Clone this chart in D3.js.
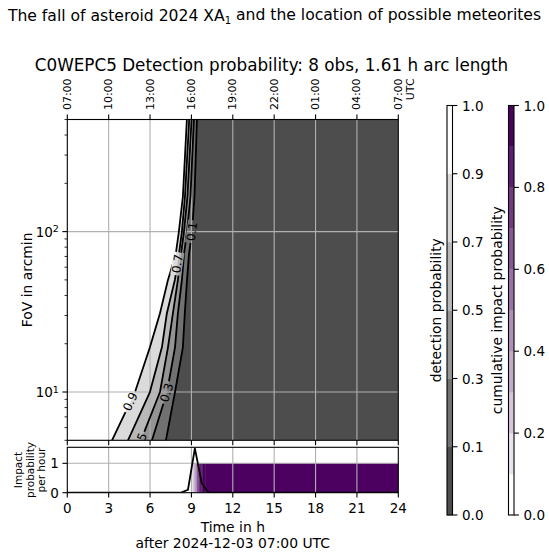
<!DOCTYPE html>
<html><head><meta charset="utf-8">
<script src="https://cdn.jsdelivr.net/npm/d3@7/dist/d3.min.js"></script>
<style>
html,body{margin:0;padding:0;background:#fff;}
svg{display:block;}
text{font-family:"DejaVu Sans",sans-serif;fill:#000;}
</style></head>
<body><svg id="chart" width="549" height="555"></svg>
<script>
// ---------------- data ----------------
const timeTicks = [0, 3, 6, 9, 12, 15, 18, 21, 24];
const utcTickLabels = ["07:00", "10:00", "13:00", "16:00", "19:00", "22:00", "01:00", "04:00", "07:00"];
const fovMajorTicks = [10, 100];
const fovMajorLabels = [["10", "1"], ["10", "2"]];
const fovMinorTicks = [5, 6, 7, 8, 9, 20, 30, 40, 50, 60, 70, 80, 90, 200, 300, 400, 500];
const fovGrid = [5, 10, 19, 31, 50, 72, 100, 165, 500];
const contourLevels = [0.1, 0.3, 0.5, 0.7, 0.9];
const contourT01 = [7.15, 7.81, 8.38, 8.52, 8.68, 8.82, 9.04, 9.22, 9.40];
const contourT03 = [6.14, 7.23, 7.81, 8.02, 8.31, 8.46, 8.68, 8.93, 9.18];
const contourT05 = [5.34, 6.72, 7.30, 7.66, 8.02, 8.24, 8.46, 8.71, 9.01];
const contourT07 = [4.40, 5.99, 6.86, 7.22, 7.80, 8.09, 8.31, 8.53, 8.84];
const contourT09 = [3.24, 4.91, 5.99, 6.72, 7.30, 7.86, 8.09, 8.38, 8.67];
const clabelFov = [100, 9.9, 4.85, 63, 8.7];
const detectionBounds = [0, 0.1, 0.3, 0.5, 0.7, 0.9, 1.0];
const impactBounds = [0, 0.1, 0.2, 0.3, 0.4, 0.5, 0.6, 0.7, 0.8, 0.9, 1.0];
const impactTicks = [0, 0.2, 0.4, 0.6, 0.8, 1.0];
const rateTimes = [0, 8.25, 8.75, 9.25, 9.75, 10.25, 24];
const rateValues = [0, 0, 0.1, 1.51, 0.32, 0, 0];
const rateTicks = [0, 1];
const cumTimes = [8.9, 9.0, 9.1, 9.2, 9.3, 9.4, 9.5, 9.6, 9.7, 9.8, 9.9, 10.0];
const cumValues = [0.06, 0.13, 0.22, 0.34, 0.49, 0.62, 0.72, 0.81, 0.88, 0.92, 0.95, 0.99];

const contourT = [contourT01, contourT03, contourT05, contourT07, contourT09];

// ---------------- styles ----------------
const grayLow = "#4d4d4d", grayHigh = "#ffffff";
const purpleLow = "#ffffff", purpleHigh = "#4c0060";
const gridColor = "#b0b0b0";
const fsTick = 13.5, fsLabel = 13.9;

// ---------------- layout ----------------
const M = {left: 67.3, right: 398.3, top: 119.5, bottom: 440.3};
const Lo = {top: 447.3, bottom: 492.7};
const majorLen = 4.9, minorLen = 2.8;

const svg = d3.select("#chart");
const defs = svg.append("defs");

const x = d3.scaleLinear().domain([0, 24]).range([M.left, M.right]);
const yF = d3.scaleLog().domain([5, 500]).range([M.bottom, M.top]);
const yI = d3.scaleLinear().domain([0, 1.545]).range([Lo.bottom, Lo.top]);

const grayColors = d3.range(detectionBounds.length - 1).map(i => d3.interpolateRgb(grayLow, grayHigh)(i / (detectionBounds.length - 2)));
const purpleColors = d3.range(impactBounds.length - 1).map(i => d3.interpolateRgb(purpleLow, purpleHigh)(i / (impactBounds.length - 2)));
const purpleScale = d3.scaleThreshold().domain(impactBounds.slice(1, -1)).range(purpleColors);

defs.append("clipPath").attr("id", "clipMain").append("rect")
  .attr("x", M.left).attr("y", M.top).attr("width", M.right - M.left).attr("height", M.bottom - M.top);
defs.append("clipPath").attr("id", "clipLow").append("rect")
  .attr("x", M.left).attr("y", Lo.top).attr("width", M.right - M.left).attr("height", Lo.bottom - Lo.top);

// ---------------- titles ----------------
const sup = svg.append("text").attr("x", 274.5).attr("y", 21).attr("text-anchor", "middle")
  .style("font-size", "15.6px");
sup.append("tspan").text("The fall of asteroid 2024 XA");
sup.append("tspan").attr("dy", "0.25em").style("font-size", "10px").text("1");
sup.append("tspan").attr("dy", "-0.25em").text(" and the location of possible meteorites");

svg.append("text").attr("x", 271.5).attr("y", 70.5).attr("text-anchor", "middle")
  .style("font-size", "16.8px").text("C0WEPC5 Detection probability: 8 obs, 1.61 h arc length");

// ---------------- main contour panel ----------------
const gMain = svg.append("g").attr("clip-path", "url(#clipMain)");
gMain.append("rect").attr("x", M.left).attr("y", M.top)
  .attr("width", M.right - M.left).attr("height", M.bottom - M.top).attr("fill", grayColors[0]);

const curvePts = contourT.map(ts => fovGrid.map((f, j) => [x(ts[j]), yF(f)]));
contourLevels.forEach((lev, i) => {
  const poly = curvePts[i].concat([[x(0) - 2, yF(500)], [x(0) - 2, yF(5)]]);
  gMain.append("path").attr("d", "M" + poly.map(p => p.join(",")).join("L") + "Z")
    .attr("fill", grayColors[i + 1]);
});

// grid
const gGrid = gMain.append("g");
timeTicks.slice(1, -1).forEach(t => {
  gGrid.append("line").attr("x1", x(t)).attr("x2", x(t)).attr("y1", M.top).attr("y2", M.bottom)
    .attr("stroke", gridColor).attr("stroke-width", 1.1);
});
fovMajorTicks.forEach(f => {
  gGrid.append("line").attr("x1", M.left).attr("x2", M.right).attr("y1", yF(f)).attr("y2", yF(f))
    .attr("stroke", gridColor).attr("stroke-width", 1.1);
});

// contour lines with label gaps
const gLines = gMain.append("g").attr("mask", "url(#lblMask)");
const line = d3.line();
curvePts.forEach(pts => {
  gLines.append("path").attr("d", line(pts)).attr("fill", "none")
    .attr("stroke", "#000").attr("stroke-width", 1.8).attr("stroke-linejoin", "round");
});

function labelPos(ts, f) {
  let j = 0;
  while (j < fovGrid.length - 2 && f > fovGrid[j + 1]) j++;
  const l0 = Math.log10(fovGrid[j]), l1 = Math.log10(fovGrid[j + 1]);
  const t = ts[j] + (Math.log10(f) - l0) / (l1 - l0) * (ts[j + 1] - ts[j]);
  const dx = x(ts[j + 1]) - x(ts[j]), dy = yF(fovGrid[j + 1]) - yF(fovGrid[j]);
  let ang = Math.atan2(dy, dx) * 180 / Math.PI;
  if (ang < -90) ang += 180;
  if (ang > 90) ang -= 180;
  return {cx: x(t), cy: yF(f), ang};
}
const fsCl = 12;
const mask = defs.append("mask").attr("id", "lblMask").attr("maskUnits", "userSpaceOnUse")
  .attr("x", 0).attr("y", 0).attr("width", 549).attr("height", 555);
mask.append("rect").attr("x", 0).attr("y", 0).attr("width", 549).attr("height", 555).attr("fill", "#fff");
contourLevels.forEach((lev, i) => {
  const p = labelPos(contourT[i], clabelFov[i]);
  const txt = gMain.append("text")
    .attr("transform", `translate(${p.cx},${p.cy}) rotate(${p.ang})`)
    .attr("text-anchor", "middle").attr("dominant-baseline", "central")
    .style("font-size", fsCl + "px").text(d3.format(".1f")(lev));
  const w = txt.node().getComputedTextLength();
  mask.append("rect").attr("x", -w / 2 - 2).attr("y", -fsCl * 0.45).attr("width", w + 4).attr("height", fsCl * 0.9)
    .attr("transform", `translate(${p.cx},${p.cy}) rotate(${p.ang})`).attr("fill", "#000");
});

// main axes
const gAx = svg.append("g");
fovMajorTicks.forEach((f, i) => {
  gAx.append("line").attr("x1", M.left - majorLen).attr("x2", M.left).attr("y1", yF(f)).attr("y2", yF(f))
    .attr("stroke", "#000").attr("stroke-width", 1.1);
  const t = gAx.append("text").attr("x", M.left - majorLen - 3.5).attr("y", yF(f) + 5).attr("text-anchor", "end")
    .style("font-size", fsTick + "px");
  t.append("tspan").text(fovMajorLabels[i][0]);
  t.append("tspan").attr("dy", "-0.45em").style("font-size", "9.5px").text(fovMajorLabels[i][1]);
});
fovMinorTicks.forEach(f => {
  gAx.append("line").attr("x1", M.left - minorLen).attr("x2", M.left).attr("y1", yF(f)).attr("y2", yF(f))
    .attr("stroke", "#000").attr("stroke-width", 0.8);
});
const fsTop = 11;
timeTicks.forEach((t, i) => {
  gAx.append("line").attr("x1", x(t)).attr("x2", x(t)).attr("y1", M.top - majorLen).attr("y2", M.top)
    .attr("stroke", "#000").attr("stroke-width", 1.1);
  gAx.append("line").attr("x1", x(t)).attr("x2", x(t)).attr("y1", M.bottom).attr("y2", M.bottom + majorLen)
    .attr("stroke", "#000").attr("stroke-width", 1.1);
  const g = gAx.append("g").attr("transform", `translate(${x(t)},${M.top - majorLen - 4.5}) rotate(-90)`);
  const lab = g.append("text").attr("x", 0).attr("y", 0).attr("dominant-baseline", "central")
    .attr("text-anchor", "start").style("font-size", fsTop + "px").text(utcTickLabels[i]);
  if (i === timeTicks.length - 1) {
    const w = lab.node().getComputedTextLength();
    g.append("text").attr("x", w).attr("y", 12).attr("dominant-baseline", "central")
      .attr("text-anchor", "end").style("font-size", fsTop + "px").text("UTC");
  }
});
gAx.append("rect").attr("x", M.left).attr("y", M.top).attr("width", M.right - M.left).attr("height", M.bottom - M.top)
  .attr("fill", "none").attr("stroke", "#000").attr("stroke-width", 1.1);

svg.append("text").attr("transform", `translate(27,${(M.top + M.bottom) / 2}) rotate(-90)`)
  .attr("text-anchor", "middle").attr("dominant-baseline", "central")
  .style("font-size", fsLabel + "px").text("FoV in arcmin");

// ---------------- lower panel ----------------
const gLow = svg.append("g").attr("clip-path", "url(#clipLow)");
cumTimes.forEach((t, i) => {
  const t1 = i < cumTimes.length - 1 ? cumTimes[i + 1] : 24;
  gLow.append("rect").attr("x", x(t)).attr("y", yI(1))
    .attr("width", x(t1) - x(t) + 0.4).attr("height", yI(0) - yI(1))
    .attr("fill", purpleScale(cumValues[i]));
});
timeTicks.slice(1, -1).forEach(t => {
  gLow.append("line").attr("x1", x(t)).attr("x2", x(t)).attr("y1", Lo.top).attr("y2", Lo.bottom)
    .attr("stroke", gridColor).attr("stroke-width", 1.1);
});
gLow.append("line").attr("x1", M.left).attr("x2", M.right).attr("y1", yI(1)).attr("y2", yI(1))
  .attr("stroke", gridColor).attr("stroke-width", 1.1);
gLow.append("path")
  .attr("d", d3.line().x((d, i) => x(rateTimes[i])).y(d => yI(d))(rateValues))
  .attr("fill", "none").attr("stroke", "#000").attr("stroke-width", 1.8).attr("stroke-linejoin", "round");

const gAx2 = svg.append("g");
rateTicks.forEach(v => {
  gAx2.append("line").attr("x1", M.left - majorLen).attr("x2", M.left).attr("y1", yI(v)).attr("y2", yI(v))
    .attr("stroke", "#000").attr("stroke-width", 1.1);
  gAx2.append("text").attr("x", M.left - majorLen - 3.5).attr("y", yI(v)).attr("text-anchor", "end")
    .attr("dominant-baseline", "central").style("font-size", fsTick + "px").text(v);
});
timeTicks.forEach(t => {
  gAx2.append("line").attr("x1", x(t)).attr("x2", x(t)).attr("y1", Lo.bottom).attr("y2", Lo.bottom + majorLen)
    .attr("stroke", "#000").attr("stroke-width", 1.1);
  gAx2.append("text").attr("x", x(t)).attr("y", 512.5).attr("text-anchor", "middle")
    .style("font-size", fsTick + "px").text(t);
});
gAx2.append("rect").attr("x", M.left).attr("y", Lo.top).attr("width", M.right - M.left).attr("height", Lo.bottom - Lo.top)
  .attr("fill", "none").attr("stroke", "#000").attr("stroke-width", 1.1);

svg.append("text").attr("x", x(12)).attr("y", 531.5).attr("text-anchor", "middle")
  .style("font-size", fsLabel + "px").text("Time in h");
svg.append("text").attr("x", x(12)).attr("y", 548).attr("text-anchor", "middle")
  .style("font-size", fsLabel + "px").text("after 2024-12-03 07:00 UTC");

["Impact", "probability", "per hour"].forEach((s, i) => {
  svg.append("text").attr("transform", `translate(${18 + i * 11.7},${(Lo.top + Lo.bottom) / 2}) rotate(-90)`)
    .attr("text-anchor", "middle").attr("dominant-baseline", "central")
    .style("font-size", "10.5px").text(s);
});

// ---------------- colorbars ----------------
const cbTop = 105.5, cbBot = 515;
function colorbar(x0, w, bounds, colors, posScale, ticks, label, labelX) {
  const g = svg.append("g");
  bounds.slice(0, -1).forEach((b, i) => {
    g.append("rect").attr("x", x0).attr("y", posScale(bounds[i + 1]))
      .attr("width", w).attr("height", posScale(b) - posScale(bounds[i + 1]) + 0.3)
      .attr("fill", colors[i]);
  });
  g.append("rect").attr("x", x0).attr("y", cbTop).attr("width", w).attr("height", cbBot - cbTop)
    .attr("fill", "none").attr("stroke", "#000").attr("stroke-width", 1.1);
  ticks.forEach(v => {
    g.append("line").attr("x1", x0 + w).attr("x2", x0 + w + majorLen).attr("y1", posScale(v)).attr("y2", posScale(v))
      .attr("stroke", "#000").attr("stroke-width", 1.1);
    g.append("text").attr("x", x0 + w + majorLen + 4.6).attr("y", posScale(v)).attr("dominant-baseline", "central")
      .style("font-size", fsTick + "px").text(d3.format(".1f")(v));
  });
  svg.append("text").attr("transform", `translate(${labelX},${(cbTop + cbBot) / 2}) rotate(-90)`)
    .attr("text-anchor", "middle").attr("dominant-baseline", "central")
    .style("font-size", fsLabel + "px").text(label);
}
const posGray = d3.scalePoint().domain(detectionBounds).range([cbBot, cbTop]);
const posPurple = d3.scaleLinear().domain([0, 1]).range([cbBot, cbTop]);
colorbar(447, 5.5, detectionBounds, grayColors, posGray, detectionBounds, "detection probability", 436);
colorbar(508.5, 5.5, impactBounds, purpleColors, posPurple, impactTicks, "cumulative impact probability", 497);
</script>
</body></html>
